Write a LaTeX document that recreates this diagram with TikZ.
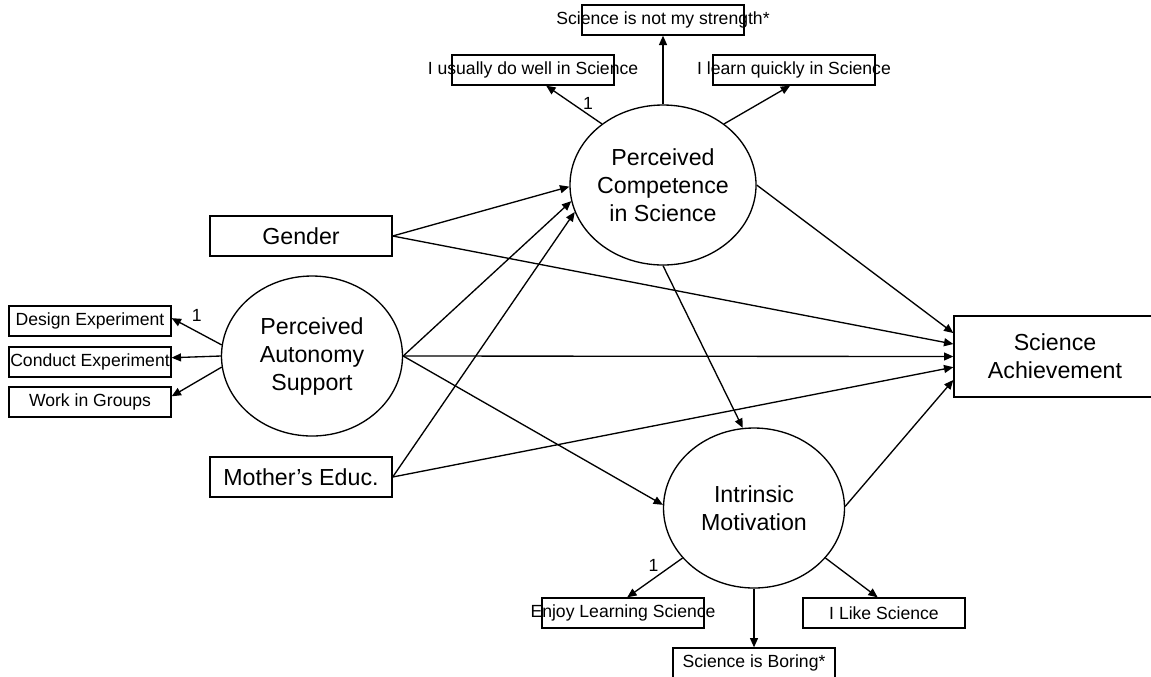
\documentclass[tikz,border=0pt]{standalone}
\usepackage{fontspec}
\setmainfont{Liberation Sans}
\usetikzlibrary{arrows.meta,shapes.geometric}
\newcommand{\ctr}[1]{\hbox to 0pt{\hss#1\hss}}

\begin{document}
\begin{tikzpicture}[x=0.75pt, y=-0.75pt,
  latent/.style={ellipse, draw, line width=1pt, minimum width=135.75pt, minimum height=120pt, inner sep=0pt, align=center, font=\fontsize{17.4}{21}\selectfont},
  observed/.style={rectangle, draw, line width=1pt, minimum width=136.5pt, minimum height=30pt, inner sep=0pt, align=center, font=\fontsize{17.4}{21}\selectfont},
  item/.style={rectangle, draw, line width=1pt, minimum width=121.5pt, minimum height=22.5pt, inner sep=0pt, font=\fontsize{13.2}{16}\selectfont},
  arrow/.style={-{Triangle[length=7pt,width=6pt]}, line width=1pt},
  one/.style={font=\fontsize{13.2}{16}\selectfont}
]
\useasboundingbox (0,0) rectangle (1151,676);

% latent variables
\node[latent] (comp) at (663,185) {Perceived\\Competence\\in Science};
\node[latent] (aut) at (312,356) {Perceived\\Autonomy\\Support};
\node[latent] (int) at (754,508) {Intrinsic\\Motivation};

% observed variables
\node[observed] (gen) at (301,236) {Gender};
\node[observed] (mot) at (301,477) {Mother’s Educ.};
\node[observed, minimum width=151.5pt, minimum height=60.75pt] (ach) at (1055,356.5) {Science\\Achievement};

% indicators
\node[item] (str) at (663,20) {\ctr{Science is not my strength*}};
\node[item] (usu) at (533,70) {\ctr{I usually do well in Science}};
\node[item] (lrn) at (794,70) {\ctr{I learn quickly in Science}};
\node[item] (des) at (90,321) {\ctr{Design Experiment}};
\node[item] (cnd) at (90,362) {\ctr{Conduct Experiment}};
\node[item] (wk) at (90,402) {\ctr{Work in Groups}};
\node[item] (enj) at (623,613) {\ctr{Enjoy Learning Science}};
\node[item] (lik) at (884,613) {\ctr{I Like Science}};
\node[item] (bor) at (754,663) {\ctr{Science is Boring*}};

% measurement paths
\draw[arrow] (comp.135) -- node[one, pos=0.25, above] {1} (usu.-50);
\draw[arrow] (comp.north) -- (str.south);
\draw[arrow] (comp.45) -- (lrn.-104);
\draw[arrow] (aut.173) -- node[one, pos=0.5, above=4pt] {1} (des.2);
\draw[arrow] (aut.180) -- (cnd.3.5);
\draw[arrow] (aut.187) -- (wk.4.2);
\draw[arrow] (int.215) -- node[one, pos=0.4, above left, inner sep=1pt] {1} (enj.75);
\draw[arrow] (int.south) -- (bor.north);
\draw[arrow] (int.-35) -- (lik.112);

% structural paths
\draw[arrow] (gen.east) -- (comp.181);
\draw[arrow] (gen.east) -- (ach.173);
\draw[arrow] (aut.east) -- (comp.190);
\draw[arrow] (aut.east) -- (ach.west);
\draw[arrow] (aut.east) -- (int.178);
\draw[arrow] (mot.east) -- (comp.197);
\draw[arrow] (mot.east) -- (ach.186.5);
\draw[arrow] (comp.east) -- (ach.167);
\draw[arrow] (comp.south) -- (int.98);
\draw[arrow] (int.1) -- (ach.193);
\end{tikzpicture}
\end{document}
